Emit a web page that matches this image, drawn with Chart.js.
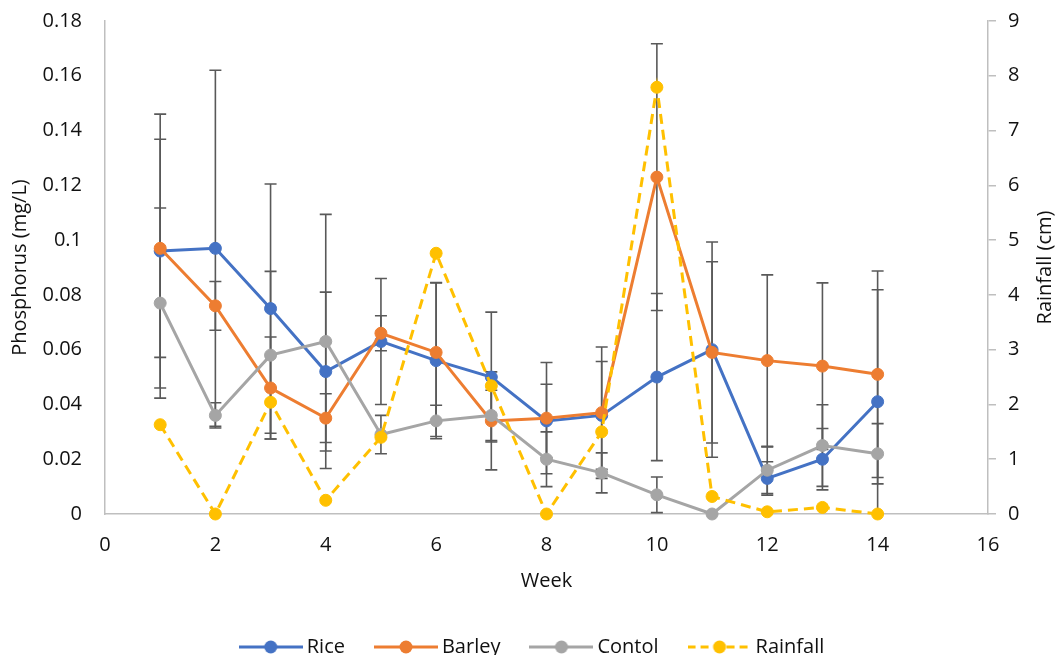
<!DOCTYPE html>
<html><head><meta charset="utf-8">
<script src="https://cdn.jsdelivr.net/npm/chart.js@4.4.0/dist/chart.umd.min.js"></script>
<style>html,body{margin:0;padding:0;background:#fff}</style>
</head><body>
<canvas id="c" width="1057" height="655"></canvas>
<script>
// ---- data ----
const weeks = [1, 2, 3, 4, 5, 6, 7, 8, 9, 10, 11, 12, 13, 14];
const rice     = [0.096, 0.097, 0.075, 0.052, 0.063, 0.056, 0.050, 0.034, 0.036, 0.050, 0.060, 0.013, 0.020, 0.041];
const barley   = [0.097, 0.076, 0.046, 0.035, 0.066, 0.059, 0.034, 0.035, 0.037, 0.123, 0.059, 0.056, 0.054, 0.051];
const contol   = [0.077, 0.036, 0.058, 0.063, 0.029, 0.034, 0.036, 0.020, 0.015, 0.007, 0.000, 0.016, 0.025, 0.022];
const rainfall = [1.63, 0, 2.04, 0.25, 1.40, 4.76, 2.34, 0, 1.50, 7.79, 0.32, 0.04, 0.12, 0];
const riceErr   = [0.050, 0.065, 0.0455, 0.029, 0.023, 0.0285, 0.0237, 0.0134, 0.0197, 0.0305, 0.0393, 0.0061, 0.0112, 0.0409];
const barleyErr = [0.0398, 0.0089, 0.0186, 0.0089, 0.0064, 0.0254, 0.0179, 0.0203, 0.024, 0.0487, 0.0331, 0.0313, 0.0304, 0.0377];
const contolErr = [0.0347, 0.0046, 0.0306, 0.0464, 0.0070, 0.0057, 0.0092, 0.010, 0.0073, 0.0065, 0, 0.0085, 0.0149, 0.011];
const seriesNames = ['Rice', 'Barley', 'Contol', 'Rainfall'];
const xTitle = 'Week';
const yTitle = 'Phosphorus (mg/L)';
const y2Title = 'Rainfall (cm)';

// ---- style ----
const FONT = "'Open Sans', sans-serif";
const FS = 20;
const TXT = '#111111';
const AXIS = '#BFBFBF';
const COLORS = ['#4472C4', '#ED7D31', '#A5A5A5', '#FFC000'];
const DASH = [10, 6];

function pts(vals) { return weeks.map((w, i) => ({x: w, y: vals[i]})); }

function legendIcon(color, dashed) {
  const c = document.createElement('canvas');
  c.width = 64; c.height = 16;
  const g = c.getContext('2d');
  g.strokeStyle = color; g.lineWidth = 3;
  if (dashed) g.setLineDash([8, 5]);
  g.beginPath(); g.moveTo(0, 8); g.lineTo(64, 8); g.stroke();
  g.setLineDash([]);
  g.fillStyle = color;
  g.beginPath(); g.arc(32, 8, 6.5, 0, Math.PI * 2); g.fill();
  return c;
}
const icons = COLORS.map((c, i) => legendIcon(c, i === 3));

const errSets = [[rice, riceErr], [barley, barleyErr], [contol, contolErr]];

const errorBars = {
  id: 'errorBars',
  beforeDatasetsDraw(chart) {
    const {ctx, chartArea} = chart;
    const xs = chart.scales.x, ys = chart.scales.y;
    ctx.save();
    ctx.beginPath();
    ctx.rect(chartArea.left, chartArea.top - 2, chartArea.right - chartArea.left, chartArea.bottom - chartArea.top + 2);
    ctx.clip();
    ctx.strokeStyle = '#595959';
    ctx.lineWidth = 1.6;
    errSets.forEach(([vals, errs]) => {
      vals.forEach((v, i) => {
        if (!errs[i]) return;
        const px = xs.getPixelForValue(weeks[i]);
        const yt = ys.getPixelForValue(v + errs[i]);
        const yb = ys.getPixelForValue(v - errs[i]);
        ctx.beginPath();
        ctx.moveTo(px, yt); ctx.lineTo(px, yb);
        ctx.moveTo(px - 6, yt); ctx.lineTo(px + 6, yt);
        ctx.moveTo(px - 6, yb); ctx.lineTo(px + 6, yb);
        ctx.stroke();
      });
    });
    ctx.restore();
  }
};

const rightTitle = {
  id: 'rightTitle',
  afterDraw(chart) {
    const {ctx, chartArea} = chart;
    ctx.save();
    ctx.font = FS + 'px ' + FONT;
    ctx.fillStyle = TXT;
    ctx.textAlign = 'center';
    ctx.textBaseline = 'middle';
    ctx.translate(1045, (chartArea.top + chartArea.bottom) / 2);
    ctx.rotate(-Math.PI / 2);
    ctx.fillText(y2Title, 0, 0);
    ctx.restore();
  }
};

const legendShift = {
  id: 'legendShift',
  afterLayout(chart) {
    const lg = chart.legend;
    if (!lg) return;
    lg.left += 12;
    lg.top += 12; lg.bottom += 12;
  }
};

function ds(label, vals, color, axis, dashed, order) {
  return {
    label, data: pts(vals), yAxisID: axis,
    borderColor: color, backgroundColor: color,
    pointBackgroundColor: color, pointBorderColor: color,
    borderWidth: 3, pointRadius: 6, pointBorderWidth: 1, pointHoverRadius: 6,
    borderDash: dashed ? DASH : [], tension: 0, clip: false, order
  };
}

function fixVertical(width) {
  return (s) => { s.width = width; s.paddingTop = 0; s.paddingBottom = 0; };
}

new Chart(document.getElementById('c'), {
  type: 'line',
  data: {
    datasets: [
      ds(seriesNames[0], rice, COLORS[0], 'y', false, 3),
      ds(seriesNames[1], barley, COLORS[1], 'y', false, 2),
      ds(seriesNames[2], contol, COLORS[2], 'y', false, 1),
      ds(seriesNames[3], rainfall, COLORS[3], 'y2', true, 0)
    ]
  },
  options: {
    responsive: false, animation: false, devicePixelRatio: 1,
    layout: {padding: {left: 0, right: 0, top: 21, bottom: 0}},
    font: {family: FONT, size: FS},
    plugins: {
      tooltip: {enabled: false},
      legend: {
        position: 'bottom',
        labels: {
          usePointStyle: true, pointStyleWidth: 52, padding: 35,
          color: TXT, font: {family: FONT, size: FS},
          sort: (a, b) => a.datasetIndex - b.datasetIndex,
          generateLabels: (chart) => Chart.defaults.plugins.legend.labels.generateLabels(chart).map(l => {
            l.pointStyle = icons[l.datasetIndex]; return l;
          })
        }
      }
    },
    scales: {
      x: {
        type: 'linear', min: 0, max: 16,
        ticks: {stepSize: 2, color: TXT, font: {family: FONT, size: FS}, padding: 19},
        grid: {display: true, drawOnChartArea: false, drawTicks: false},
        border: {color: AXIS, width: 1.5},
        title: {display: true, text: xTitle, color: TXT, font: {family: FONT, size: FS}, padding: {top: 0, bottom: -3}},
        afterFit: (s) => { s.height = 655 - 514 - (s.chart.legend ? s.chart.legend.height : 0); }
      },
      y: {
        position: 'left', min: 0, max: 0.18,
        ticks: {stepSize: 0.02, color: TXT, font: {family: FONT, size: FS}, padding: 23,
          callback: (v) => String(Math.round(v * 100) / 100)},
        grid: {display: true, drawOnChartArea: false, drawTicks: false},
        border: {color: AXIS, width: 1.5},
        title: {display: true, text: yTitle, color: TXT, font: {family: FONT, size: FS}, padding: {top: 8, bottom: 0}},
        afterFit: fixVertical(105)
      },
      y2: {
        position: 'right', min: 0, max: 9,
        ticks: {stepSize: 1, color: TXT, font: {family: FONT, size: FS}, padding: 12},
        grid: {display: true, drawOnChartArea: false, drawTicks: true, tickLength: 8, color: AXIS, lineWidth: 1.5},
        border: {color: AXIS, width: 1.5},
        afterFit: fixVertical(1057 - 988)
      }
    }
  },
  plugins: [errorBars, rightTitle, legendShift]
});
</script>
</body></html>
